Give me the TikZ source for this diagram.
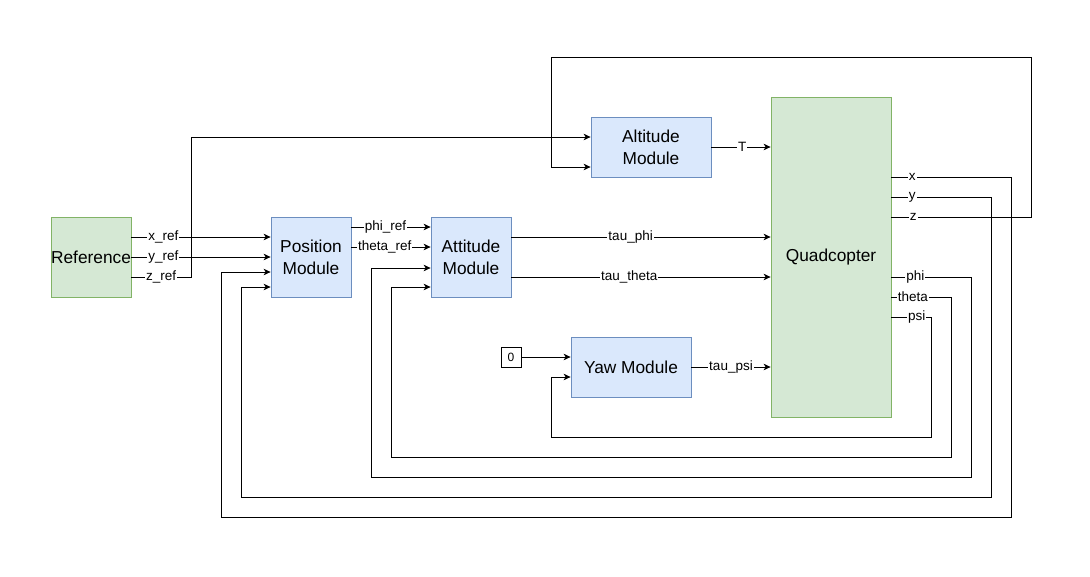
\documentclass[tikz,border=0pt]{standalone}
\usepackage{fontspec}
\setmainfont{Liberation Sans}
\usetikzlibrary{arrows,arrows.meta,positioning}
\definecolor{plantfill}{HTML}{D5E8D4}
\definecolor{plantline}{HTML}{82B366}
\definecolor{ctrlfill}{HTML}{DAE8FC}
\definecolor{ctrlline}{HTML}{6C8EBF}
\tikzstyle{arrow} = [line width=0.9pt,-{Stealth[length=7pt,width=6.5pt,inset=2pt]}]
\tikzstyle{plant} = [draw=plantline, fill=plantfill, line width=0.8pt, align=center, inner sep=0pt, font=\fontsize{17.3}{22}\selectfont]
\tikzstyle{ctrl} = [draw=ctrlline, fill=ctrlfill, line width=0.8pt, align=center, inner sep=0pt, font=\fontsize{17.3}{22}\selectfont]
\tikzstyle{lbl} = [fill=white, inner sep=1pt, font=\fontsize{13.5}{13.5}\selectfont]

\begin{document}
\begin{tikzpicture}[x=1pt,y=-1pt]
    \useasboundingbox (0,0) rectangle (1090,576);
    % blocks
    \node[plant, minimum width=80pt, minimum height=80pt] (ref) at (91,257) {Reference};
    \node[ctrl, minimum width=80pt, minimum height=80pt] (pos) at (311,257) {Position\\Module};
    \node[ctrl, minimum width=80pt, minimum height=80pt] (att) at (471,257) {Attitude\\Module};
    \node[ctrl, minimum width=120pt, minimum height=60pt] (alt) at (651,147) {Altitude\\Module};
    \node[ctrl, minimum width=120pt, minimum height=60pt] (yaw) at (631,367) {Yaw Module};
    \node[plant, minimum width=120pt, minimum height=320pt] (quad) at (831,257) {Quadcopter};
    \node[draw, line width=0.7pt, minimum size=20pt, inner sep=0pt, font=\fontsize{12}{12}\selectfont] (zero) at (511,357) {0};

    % references
    \draw[arrow] ([yshift=20pt]ref.east) -- node[lbl,pos=0.23]{x\_ref} ([yshift=20pt]pos.west);
    \draw[arrow] (ref.east) -- node[lbl,pos=0.23]{y\_ref} (pos.west);
    \draw[arrow] ([yshift=-20pt]ref.east) -- node[lbl]{z\_ref} (191,277) |- ([yshift=10pt]alt.west);
    \draw[arrow] ([yshift=30pt]pos.east) -- node[lbl,pos=0.43]{phi\_ref} ([yshift=30pt]att.west);
    \draw[arrow] ([yshift=10pt]pos.east) -- node[lbl,pos=0.42]{theta\_ref} ([yshift=10pt]att.west);
    \draw[arrow] (zero) -- ([yshift=10pt]yaw.west);

    % control inputs
    \draw[arrow] ([yshift=20pt]att.east) -- node[lbl,pos=0.46]{tau\_phi} ([yshift=20pt]quad.west);
    \draw[arrow] ([yshift=-20pt]att.east) -- node[lbl,pos=0.455]{tau\_theta} ([yshift=-20pt]quad.west);
    \draw[arrow] (alt.east) -- node[lbl,pos=0.52]{T} ([yshift=110pt]quad.west);
    \draw[arrow] (yaw.east) -- node[lbl]{tau\_psi} ([yshift=-110pt]quad.west);

    % feedback
    \draw[arrow] ([yshift=80pt]quad.east) -- node[lbl,pos=0.175]{x} (1011,177) -- (1011,517) -- (221,517) |- ([yshift=-15pt]pos.west);
    \draw[arrow] ([yshift=60pt]quad.east) -- node[lbl,pos=0.21]{y} (991,197) -- (991,497) -- (241,497) |- ([yshift=-30pt]pos.west);
    \draw[arrow] ([yshift=40pt]quad.east) -- node[lbl,pos=0.157]{z} (1031,217) -- (1031,57) -- (551,57) |- ([yshift=-20pt]alt.west);
    \draw[arrow] ([yshift=-20pt]quad.east) -- node[lbl,pos=0.3]{phi} (971,277) -- (971,477) -- (371,477) |- ([yshift=-11pt]att.west);
    \draw[arrow] ([yshift=-40pt]quad.east) -- node[lbl,pos=0.36]{theta} (951,297) -- (951,457) -- (391,457) |- ([yshift=-30pt]att.west);
    \draw[arrow] ([yshift=-60pt]quad.east) -- node[lbl,pos=0.64]{psi} (931,317) -- (931,437) -- (551,437) |- ([yshift=-10pt]yaw.west);
\end{tikzpicture}
\end{document}
